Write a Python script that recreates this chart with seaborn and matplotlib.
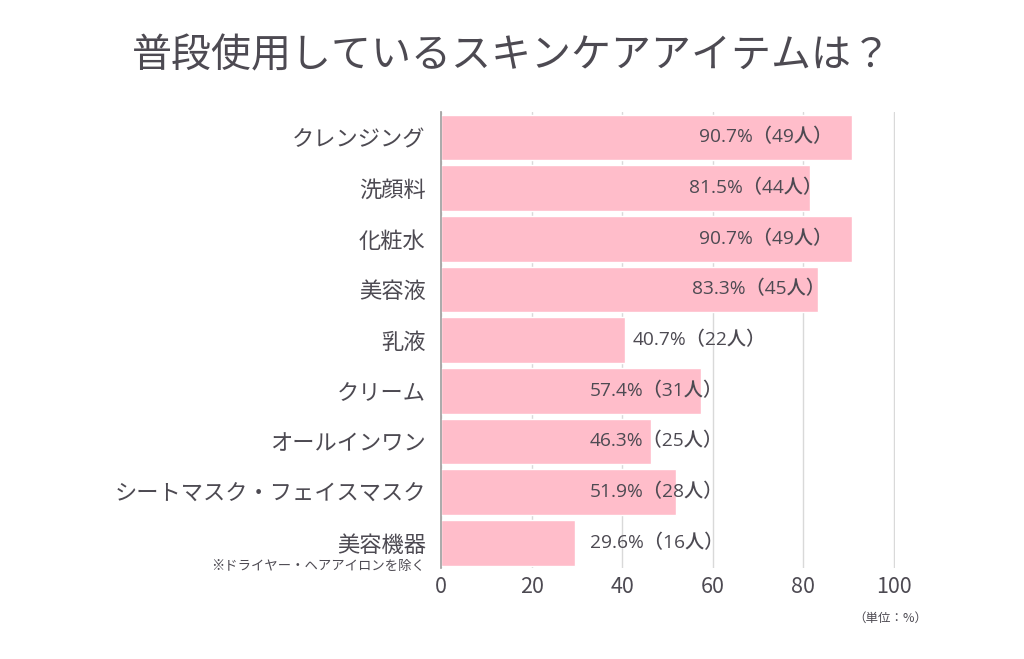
import matplotlib
matplotlib.use("Agg")
import matplotlib.pyplot as plt
import pandas as pd
import seaborn as sns

items = ["クレンジング", "洗顔料", "化粧水", "美容液", "乳液", "クリーム",
         "オールインワン", "シートマスク・フェイスマスク", "美容機器"]
percents = [90.7, 81.5, 90.7, 83.3, 40.7, 57.4, 46.3, 51.9, 29.6]
counts = [49, 44, 49, 45, 22, 31, 25, 28, 16]
x_ticks = [0, 20, 40, 60, 80, 100]

# right edge of each value label (axis units), as placed in the original
label_right = [86.4, 84.1, 86.4, 84.8, 71.7, 62.3, 62.3, 62.3, 62.3]

TEXT = "#4d4a52"
PINK = "#ffbdca"

sns.set_theme(style="white")
plt.rcParams["font.family"] = ["Noto Sans CJK JP", "DejaVu Sans"]

df = pd.DataFrame({"item": items, "percent": percents, "count": counts})

fig = plt.figure(figsize=(10.24, 6.59), dpi=100)
ax = fig.add_axes([0.4307, 0.138, 0.4434, 0.692])

sns.barplot(data=df, x="percent", y="item", color=PINK, saturation=1,
            width=0.9, ax=ax, zorder=2)

ax.set_xlim(0, 100.3)
ax.set_xticks(x_ticks)
ax.set_xticklabels([str(t) for t in x_ticks], fontsize=15.5, color=TEXT)
ax.tick_params(axis="x", length=0, pad=6)
ax.tick_params(axis="y", length=0, pad=11)
ax.set_yticklabels(items, fontsize=16, color=TEXT)
ax.set_xlabel("")
ax.set_ylabel("")
ax.grid(axis="x", color="#d9d9d9", linewidth=1, zorder=0)
for side in ["top", "right", "bottom"]:
    ax.spines[side].set_visible(False)
ax.spines["left"].set_color("#a0a0a0")
ax.spines["left"].set_zorder(3)

for i, (p, c) in enumerate(zip(percents, counts)):
    ax.text(label_right[i], i, f"{p}%（{c}人）", ha="right", va="center",
            fontsize=13.8, color=TEXT, zorder=4,
            family=["Open Sans", "Noto Sans CJK JP"], fontweight="medium")

fig.text(0.5, 0.915, "普段使用しているスキンケアアイテムは？", ha="center", va="center",
         fontsize=28.8, color=TEXT)
fig.text(425 / 1024, 1 - 566 / 659, "※ドライヤー・ヘアアイロンを除く", ha="right",
         va="center", fontsize=9.6, color=TEXT)
fig.text(927 / 1024, 1 - 618 / 659, "（単位：%）", ha="right", va="center",
         fontsize=9, color=TEXT)

fig.savefig("out.png", dpi=100)
